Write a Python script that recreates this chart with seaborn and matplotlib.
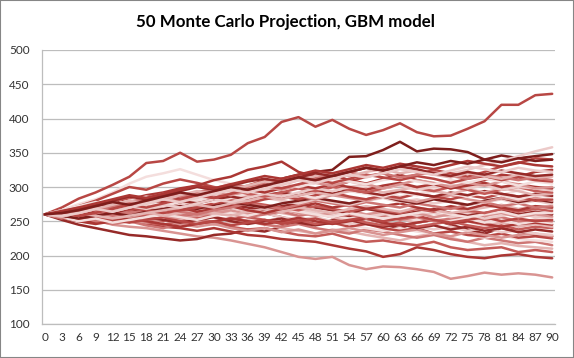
import matplotlib
matplotlib.use("Agg")
import matplotlib.pyplot as plt
import seaborn as sns
import pandas as pd
from matplotlib.patches import Rectangle

# time steps (every 3rd day)
days = list(range(0, 91, 3))

# 50 simulated price paths (values read/estimated from the picture)
path_01 = [260,270,283,292,303,315,335,338,350,337,340,347,364,373,395,402,388,398,385,376,383,393,380,374,375,385,396,420,420,434,436]
path_02 = [260,255,250,252,245,242,240,236,232,228,226,222,217,212,205,198,195,198,186,180,184,183,180,176,166,170,175,172,174,172,168]
path_03 = [260,262,268,265,272,278,275,282,288,285,292,298,300,305,312,318,322,325,344,345,354,366,352,356,355,351,340,346,342,345,348]
path_04 = [260,266,275,282,292,305,315,320,326,318,310,305,300,296,302,298,292,288,295,300,292,286,290,296,302,298,292,288,295,300,298]
path_05 = [260,255,262,258,265,270,262,268,275,280,285,292,288,295,302,310,318,315,322,328,325,330,322,318,320,325,332,338,345,352,358]
path_06 = [260,265,272,280,290,300,296,305,311,306,300,296,302,310,305,298,292,300,308,315,320,312,318,325,320,315,322,330,335,342,340]
path_07 = [260,258,262,270,275,282,288,292,298,302,310,315,325,330,337,322,315,318,310,305,312,318,310,305,298,305,310,318,315,322,325]
path_08 = [260,252,245,240,235,230,228,225,222,224,230,232,238,235,242,248,245,252,258,250,245,240,248,252,245,238,232,240,235,230,228]
path_09 = [260,256,250,248,255,252,245,242,240,236,240,235,230,228,224,222,220,215,210,206,198,202,212,208,202,198,196,200,202,198,196]
path_10 = [260,262,258,255,250,252,248,245,250,255,248,242,238,240,235,230,228,232,225,220,222,218,215,220,212,208,210,212,205,208,205]
path_11 = [260,265,262,268,260,255,258,252,256,250,245,248,252,246,240,236,232,238,235,230,226,222,228,232,226,220,215,218,214,212,210]
path_12 = [260,254,258,250,246,250,244,240,246,252,248,255,250,245,242,246,240,236,232,238,235,230,226,230,224,220,226,222,218,220,215]
path_13 = [260,262,268,272,266,270,275,268,262,258,264,260,255,250,256,252,246,250,244,240,236,240,235,232,236,230,226,230,224,222,220]
path_14 = [260,258,252,256,262,258,254,250,255,260,256,252,258,262,256,250,245,248,242,246,240,236,240,232,235,230,228,232,226,228,225]
path_15 = [260,264,258,262,256,252,248,252,246,242,246,240,236,240,234,238,232,236,240,235,230,234,238,232,228,234,230,226,230,232,228]
path_16 = [260,257,262,266,270,266,262,268,272,266,270,264,258,262,256,252,256,250,246,250,244,248,242,238,242,236,240,234,236,232,230]
path_17 = [260,263,268,264,258,262,256,252,248,252,256,250,246,250,254,248,244,248,252,246,242,246,240,244,238,242,236,240,234,238,235]
path_18 = [260,256,252,258,262,256,260,264,258,254,258,262,256,252,248,252,246,250,254,248,244,248,242,246,250,244,240,244,238,242,240]
path_19 = [260,262,266,270,274,270,276,280,274,270,266,270,264,268,262,258,262,256,252,256,250,254,248,252,246,250,244,248,242,246,242]
path_20 = [260,255,250,246,250,254,250,246,242,246,250,254,250,246,250,255,250,246,250,254,248,244,248,252,246,250,246,242,246,248,245]
path_21 = [260,266,272,268,274,280,276,282,278,272,276,270,266,270,264,260,264,258,254,258,262,256,252,256,250,254,248,252,246,250,247]
path_22 = [260,258,262,256,260,264,268,262,258,262,266,260,256,260,264,258,262,256,260,254,258,252,256,250,254,258,252,256,250,252,250]
path_23 = [260,264,260,256,252,248,252,256,250,246,250,244,248,252,246,250,254,248,252,256,250,254,258,252,248,252,256,250,254,250,252]
path_24 = [260,256,262,258,264,270,266,262,268,272,266,270,274,268,264,268,262,258,262,256,260,264,258,262,256,260,254,258,262,256,255]
path_25 = [260,262,258,264,260,256,262,258,254,258,262,266,260,264,268,262,258,262,266,260,264,258,262,256,260,264,258,262,256,260,257]
path_26 = [260,265,270,266,262,268,264,270,276,272,268,274,270,266,272,276,270,266,262,268,264,260,264,268,262,258,262,266,260,264,260]
path_27 = [260,256,250,254,248,252,256,260,256,252,258,262,258,264,268,264,260,256,262,258,254,258,262,266,260,256,260,264,258,262,262]
path_28 = [260,263,260,266,270,266,272,268,264,270,276,272,278,274,270,266,272,268,264,270,266,262,268,264,270,266,262,268,264,268,265]
path_29 = [260,258,264,260,256,260,264,258,262,266,262,258,264,268,264,270,266,262,268,272,268,264,270,266,262,266,270,274,268,272,268]
path_30 = [260,266,262,258,264,268,272,266,270,264,268,272,266,262,268,272,276,270,274,268,272,276,270,266,272,268,274,270,266,272,270]
path_31 = [260,255,260,264,258,262,266,270,264,260,266,270,276,272,268,274,280,276,272,278,274,270,276,272,268,274,278,272,276,270,272]
path_32 = [260,262,268,274,270,276,272,268,274,280,276,282,278,284,280,276,282,278,274,280,284,278,282,276,280,274,278,282,276,280,275]
path_33 = [260,258,254,258,262,258,264,268,272,268,274,278,274,270,276,280,284,280,276,282,286,280,276,282,278,274,280,284,278,282,278]
path_34 = [260,264,270,276,272,278,284,280,286,290,286,282,288,284,290,286,282,288,284,280,286,282,278,284,288,282,278,284,280,284,280]
path_35 = [260,262,258,262,266,270,266,262,266,270,276,280,276,282,286,282,288,292,286,282,288,284,290,286,282,288,284,290,286,280,282]
path_36 = [260,257,262,268,264,270,276,272,278,282,278,284,290,286,292,288,284,290,294,290,286,292,288,294,290,286,292,288,282,288,285]
path_37 = [260,264,268,272,278,274,280,284,280,276,282,286,282,288,292,288,294,290,296,292,288,294,290,286,292,288,294,290,286,290,287]
path_38 = [260,258,262,258,254,258,262,266,270,274,270,276,280,286,282,288,292,288,294,298,292,296,300,294,290,296,292,298,294,288,290]
path_39 = [260,265,270,274,280,284,280,286,290,286,292,296,290,286,292,298,294,300,296,292,298,302,298,294,300,296,290,296,300,294,292]
path_40 = [260,262,266,262,268,272,268,274,270,276,282,278,284,290,286,292,298,294,300,304,298,302,296,300,304,298,302,296,300,298,295]
path_41 = [260,263,258,264,270,276,282,278,284,288,284,290,296,292,298,302,298,304,300,296,302,306,300,304,298,302,306,300,304,300,298]
path_42 = [260,258,264,270,266,272,278,284,280,286,292,288,294,300,296,302,306,302,308,304,298,304,310,306,300,306,302,308,304,298,300]
path_43 = [260,266,272,278,274,280,286,282,288,294,290,296,302,298,304,300,306,312,308,304,310,314,308,304,310,306,312,308,302,308,305]
path_44 = [260,262,258,262,268,274,270,276,282,288,284,290,296,302,298,304,310,306,312,318,314,310,316,312,306,312,316,310,314,310,308]
path_45 = [260,264,270,266,272,278,284,290,286,292,298,304,300,306,312,316,312,318,322,316,320,314,318,322,316,312,318,314,310,314,310]
path_46 = [260,257,262,268,274,280,276,282,288,294,290,296,302,308,304,310,316,320,316,322,326,320,324,318,314,320,316,312,318,314,315]
path_47 = [260,262,268,274,280,286,282,288,294,300,296,302,308,312,308,314,320,316,322,328,324,330,326,320,316,322,318,324,320,316,318]
path_48 = [260,258,262,268,264,270,276,282,278,284,290,296,292,298,304,310,306,312,318,314,320,326,322,318,324,330,326,322,328,324,322]
path_49 = [260,265,270,276,282,288,284,290,296,302,298,304,310,316,312,318,324,320,326,332,328,334,330,326,332,338,334,330,336,332,330]
path_50 = [260,262,266,272,278,274,280,286,292,288,294,300,296,302,308,314,310,316,322,328,324,330,336,332,338,334,340,336,342,338,340]

paths = [path_01, path_02, path_03, path_04, path_05, path_06, path_07, path_08, path_09, path_10,
         path_11, path_12, path_13, path_14, path_15, path_16, path_17, path_18, path_19, path_20,
         path_21, path_22, path_23, path_24, path_25, path_26, path_27, path_28, path_29, path_30,
         path_31, path_32, path_33, path_34, path_35, path_36, path_37, path_38, path_39, path_40,
         path_41, path_42, path_43, path_44, path_45, path_46, path_47, path_48, path_49, path_50]

# shade of each series (0 = darkest red, 9 = lightest pink)
shade = [3,6,0,9,8,3,2,1,2,4, 7,5,9,3,6,8,1,4,7,2, 9,5,3,8,6,1,9,4,7,2,
         5,8,0,6,3,9,1,7,4,8, 2,6,9,3,5,7,1,8,2,0]

x_ticks = list(range(0, 91, 3))
y_ticks = list(range(100, 501, 50))
title = "50 Monte Carlo Projection, GBM model"

rows = []
for i, p in enumerate(paths):
    for d, v in zip(days, p):
        rows.append({"day": d, "value": v, "series": f"S{i+1}"})
df = pd.DataFrame(rows)

shades = sns.blend_palette(["#7E1E1C", "#A93431", "#C0504D", "#D2817F", "#E6B9B8", "#F4DEDD"], n_colors=10)
palette = {f"S{i+1}": shades[s] for i, s in enumerate(shade)}

sns.set_theme(style="white")
plt.rcParams["font.family"] = ["Lato", "DejaVu Sans"]

fig = plt.figure(figsize=(5.74, 3.58), dpi=100)
ax = fig.add_axes([42/574, 1-324/358, (555-42)/574, (324-50)/358])

sns.lineplot(data=df, x="day", y="value", hue="series", palette=palette,
             estimator=None, errorbar=None, legend=False, linewidth=1.8, ax=ax)

ax.set_xlim(-0.5, 90.5)
ax.set_ylim(100, 500)
ax.set_xticks(x_ticks)
ax.set_xticklabels([str(t) for t in x_ticks])
ax.set_yticks(y_ticks)
ax.set_yticklabels([str(t) for t in y_ticks])
ax.set_xlabel("")
ax.set_ylabel("")
ax.yaxis.grid(True, color="#BDBDBD", linewidth=0.9)
ax.xaxis.grid(False)
ax.set_axisbelow(True)
for side in ["top", "right"]:
    ax.spines[side].set_visible(False)
for side in ["left", "bottom"]:
    ax.spines[side].set_color("#BDBDBD")
    ax.spines[side].set_linewidth(0.9)
ax.tick_params(axis="both", length=0, labelsize=8.5, colors="#333333")
ax.tick_params(axis="y", pad=9)
ax.tick_params(axis="x", pad=6)

fig.text(0.497, 1-22/358, title, ha="center", va="center", fontsize=12.2,
         fontweight="bold", color="#000000")

fig.patches.append(Rectangle((0, 0), 1, 1, transform=fig.transFigure, fill=False,
                             edgecolor="#868686", linewidth=1.5))

fig.savefig("out.png", dpi=100)
